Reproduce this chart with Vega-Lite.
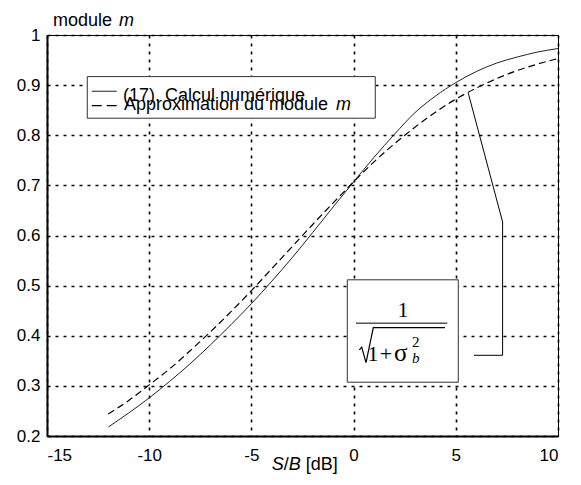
{
  "$schema": "https://vega.github.io/schema/vega-lite/v6.json",
  "width": 511,
  "height": 401,
  "autosize": {"type": "none"},
  "padding": {"left": 47, "top": 35, "right": 23, "bottom": 49},
  "background": "white",
  "config": {
    "view": {"stroke": "black", "strokeWidth": 1},
    "axis": {
      "domainColor": "black", "domainWidth": 2,
      "labelFont": "Liberation Sans", "labelFontSize": 17, "labelColor": "black",
      "tickSize": 0, "grid": true, "gridColor": "black", "gridDash": [3, 5],
      "gridWidth": 1.6, "gridOpacity": 1
    }
  },
  "datasets": {
    "curves": [
      {"x": -12, "y": 0.218, "s": "exact"}, {"x": -11, "y": 0.246, "s": "exact"}, {"x": -10, "y": 0.276, "s": "exact"},
      {"x": -9, "y": 0.309, "s": "exact"}, {"x": -8, "y": 0.344, "s": "exact"}, {"x": -7, "y": 0.382, "s": "exact"},
      {"x": -6, "y": 0.422, "s": "exact"}, {"x": -5, "y": 0.464, "s": "exact"}, {"x": -4, "y": 0.509, "s": "exact"},
      {"x": -3, "y": 0.556, "s": "exact"}, {"x": -2, "y": 0.606, "s": "exact"}, {"x": -1, "y": 0.657, "s": "exact"},
      {"x": 0, "y": 0.707, "s": "exact"}, {"x": 1, "y": 0.756, "s": "exact"}, {"x": 2, "y": 0.802, "s": "exact"},
      {"x": 3, "y": 0.845, "s": "exact"}, {"x": 4, "y": 0.878, "s": "exact"}, {"x": 5, "y": 0.905, "s": "exact"},
      {"x": 6, "y": 0.927, "s": "exact"}, {"x": 7, "y": 0.944, "s": "exact"}, {"x": 8, "y": 0.956, "s": "exact"},
      {"x": 9, "y": 0.966, "s": "exact"}, {"x": 10, "y": 0.973, "s": "exact"},
      {"x": -12, "y": 0.244, "s": "approx"}, {"x": -11, "y": 0.271, "s": "approx"}, {"x": -10, "y": 0.302, "s": "approx"},
      {"x": -9, "y": 0.334, "s": "approx"}, {"x": -8, "y": 0.370, "s": "approx"}, {"x": -7, "y": 0.408, "s": "approx"},
      {"x": -6, "y": 0.448, "s": "approx"}, {"x": -5, "y": 0.490, "s": "approx"}, {"x": -4, "y": 0.534, "s": "approx"},
      {"x": -3, "y": 0.578, "s": "approx"}, {"x": -2, "y": 0.622, "s": "approx"}, {"x": -1, "y": 0.665, "s": "approx"},
      {"x": 0, "y": 0.707, "s": "approx"}, {"x": 1, "y": 0.747, "s": "approx"}, {"x": 2, "y": 0.783, "s": "approx"},
      {"x": 3, "y": 0.816, "s": "approx"}, {"x": 4, "y": 0.846, "s": "approx"}, {"x": 5, "y": 0.872, "s": "approx"},
      {"x": 6, "y": 0.894, "s": "approx"}, {"x": 7, "y": 0.913, "s": "approx"}, {"x": 8, "y": 0.929, "s": "approx"},
      {"x": 9, "y": 0.942, "s": "approx"}, {"x": 10, "y": 0.953, "s": "approx"}
    ],
    "boxes": [
      {"x": -13.03, "x2": 1.06, "y": 0.917, "y2": 0.834},
      {"x": -0.308, "x2": 5.122, "y": 0.5116, "y2": 0.3073}
    ],
    "samples": [
      {"x": -12.81, "x2": -11.59, "y": 0.8878, "k": "solid"},
      {"x": -12.81, "x2": -11.59, "y": 0.8592, "k": "dash"}
    ],
    "bar": [{"x": 0.118, "x2": 4.584, "y": 0.4251}],
    "leader": [
      {"o": 1, "x": 5.61, "y": 0.884}, {"o": 2, "x": 7.29, "y": 0.627},
      {"o": 3, "x": 7.29, "y": 0.361}, {"o": 4, "x": 5.89, "y": 0.361}
    ],
    "radical": [
      {"o": 1, "x": 0.279, "y": 0.3718}, {"o": 2, "x": 0.396, "y": 0.3772},
      {"o": 3, "x": 0.607, "y": 0.3464}, {"o": 4, "x": 0.964, "y": 0.4163},
      {"o": 5, "x": 4.472, "y": 0.4163}
    ],
    "sans": [
      {"x": -14.706, "y": 1.018, "t": "module"},
      {"x": -11.282, "y": 0.8678, "t": "(17). Calcul numérique"},
      {"x": -11.233, "y": 0.8512, "t": "Approximation du module"},
      {"x": -3.42, "y": 0.1321, "t": "/"},
      {"x": -2.343, "y": 0.1321, "t": "[dB]"}
    ],
    "sansItalic": [
      {"x": -11.478, "y": 1.018, "t": "m"},
      {"x": -0.861, "y": 0.8512, "t": "m"},
      {"x": -4.007, "y": 0.1321, "t": "S"},
      {"x": -3.175, "y": 0.1321, "t": "B"}
    ],
    "serifBig": [
      {"x": 2.417, "y": 0.4383, "t": "1"},
      {"x": 0.949, "y": 0.3504, "t": "1"},
      {"x": 1.585, "y": 0.3504, "t": "+"}
    ],
    "sigma": [{"x": 1.977, "y": 0.3504, "t": "σ"}],
    "serifSmall": [{"x": 2.857, "y": 0.3775, "t": "2"}],
    "serifSmallItalic": [{"x": 2.857, "y": 0.3455, "t": "b"}]
  },
  "encoding": {
    "x": {
      "field": "x", "type": "quantitative",
      "scale": {"domain": [-15, 10], "nice": false, "zero": false},
      "axis": {"title": null, "values": [-15, -10, -5, 0, 5, 10], "labelPadding": 11, "labelExpr": "'' + datum.value"}
    },
    "y": {
      "field": "y", "type": "quantitative",
      "scale": {"domain": [0.2, 1], "nice": false, "zero": false},
      "axis": {"title": null, "values": [0.2, 0.3, 0.4, 0.5, 0.6, 0.7, 0.8, 0.9, 1], "labelPadding": 7, "labelExpr": "'' + datum.value"}
    }
  },
  "layer": [
    {
      "data": {"name": "curves"},
      "transform": [{"filter": "datum.s === 'exact'"}],
      "mark": {"type": "line", "color": "#2b1d1d", "strokeWidth": 1, "interpolate": "monotone"}
    },
    {
      "data": {"name": "curves"},
      "transform": [{"filter": "datum.s === 'approx'"}],
      "mark": {"type": "line", "color": "black", "strokeWidth": 1.2, "strokeDash": [7, 4], "interpolate": "monotone"}
    },
    {
      "data": {"name": "leader"},
      "mark": {"type": "line", "color": "black", "strokeWidth": 1},
      "encoding": {"order": {"field": "o", "type": "quantitative"}}
    },
    {
      "data": {"name": "boxes"},
      "mark": {"type": "rect", "fill": "white", "stroke": "#333333", "strokeWidth": 1},
      "encoding": {"x2": {"field": "x2"}, "y2": {"field": "y2"}}
    },
    {
      "data": {"name": "samples"},
      "transform": [{"filter": "datum.k === 'solid'"}],
      "mark": {"type": "rule", "color": "#2b1d1d", "strokeWidth": 1},
      "encoding": {"x2": {"field": "x2"}}
    },
    {
      "data": {"name": "samples"},
      "transform": [{"filter": "datum.k === 'dash'"}],
      "mark": {"type": "rule", "color": "black", "strokeWidth": 1.3, "strokeDash": [10, 5]},
      "encoding": {"x2": {"field": "x2"}}
    },
    {
      "data": {"name": "bar"},
      "mark": {"type": "rule", "color": "black", "strokeWidth": 1},
      "encoding": {"x2": {"field": "x2"}}
    },
    {
      "data": {"name": "radical"},
      "mark": {"type": "line", "color": "black", "strokeWidth": 1.2},
      "encoding": {"order": {"field": "o", "type": "quantitative"}}
    },
    {
      "data": {"name": "sans"},
      "mark": {"type": "text", "align": "left", "baseline": "alphabetic", "font": "Liberation Sans", "fontSize": 18, "color": "black"},
      "encoding": {"text": {"field": "t"}}
    },
    {
      "data": {"name": "sansItalic"},
      "mark": {"type": "text", "align": "left", "baseline": "alphabetic", "font": "Liberation Sans", "fontStyle": "italic", "fontSize": 18, "color": "black"},
      "encoding": {"text": {"field": "t"}}
    },
    {
      "data": {"name": "serifBig"},
      "mark": {"type": "text", "align": "center", "baseline": "alphabetic", "font": "Liberation Serif", "fontSize": 22, "color": "black"},
      "encoding": {"text": {"field": "t"}}
    },
    {
      "data": {"name": "sigma"},
      "mark": {"type": "text", "align": "left", "baseline": "alphabetic", "font": "Liberation Serif", "fontSize": 25, "color": "black"},
      "encoding": {"text": {"field": "t"}}
    },
    {
      "data": {"name": "serifSmall"},
      "mark": {"type": "text", "align": "left", "baseline": "alphabetic", "font": "Liberation Serif", "fontSize": 15, "color": "black"},
      "encoding": {"text": {"field": "t"}}
    },
    {
      "data": {"name": "serifSmallItalic"},
      "mark": {"type": "text", "align": "left", "baseline": "alphabetic", "font": "Liberation Serif", "fontStyle": "italic", "fontSize": 15, "color": "black"},
      "encoding": {"text": {"field": "t"}}
    }
  ]
}
